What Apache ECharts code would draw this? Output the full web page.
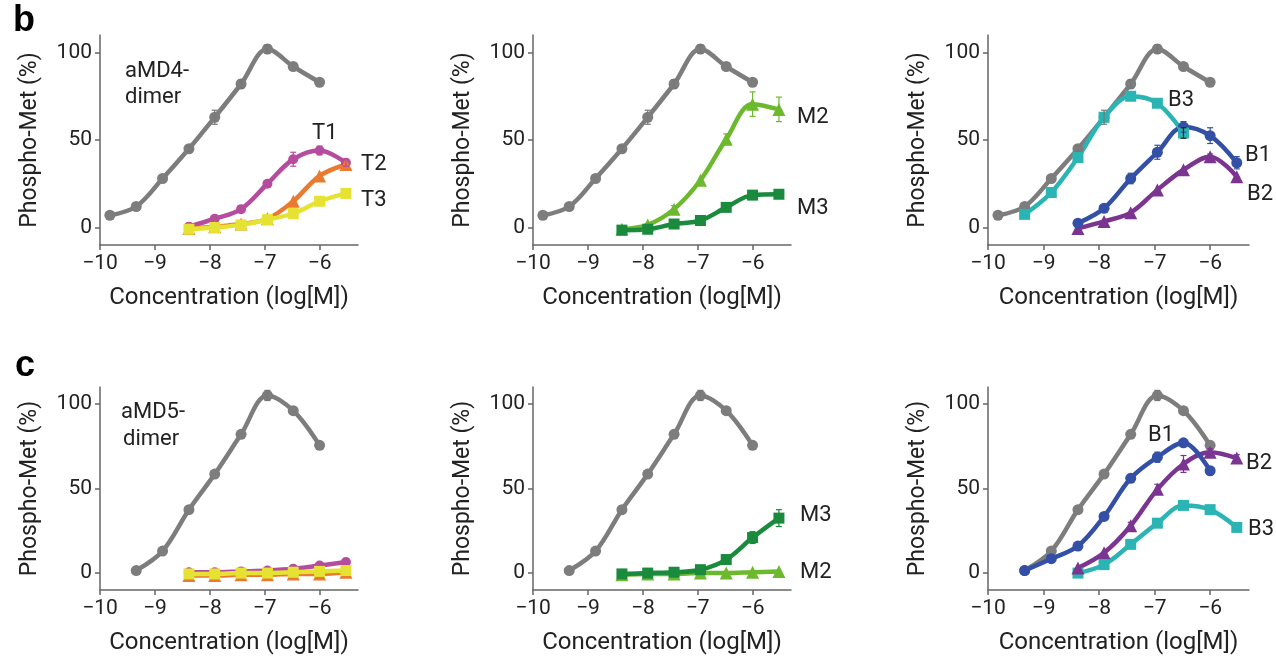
<!DOCTYPE html>
<html>
<head>
<meta charset="utf-8">
<script src="https://cdn.jsdelivr.net/npm/echarts@6/dist/echarts.min.js"></script>
<style>html,body{margin:0;padding:0;background:#fff;}#c{width:1276px;height:658px;}</style>
</head>
<body>
<div id="c"></div>
<script>
// ---- data (log10 concentration, % phospho-Met) ----
const xGray9 = [-9.82, -9.34, -8.86, -8.38, -7.91, -7.43, -6.95, -6.48, -6.0];
const xGray8 = [-9.34, -8.86, -8.38, -7.91, -7.43, -6.95, -6.48, -6.0];
const x7 = [-8.38, -7.91, -7.43, -6.95, -6.48, -6.0, -5.52];
const xB3b = [-9.34, -8.86, -8.38, -7.91, -7.43, -6.95, -6.48];
const xTicks = [-10, -9, -8, -7, -6];
const yTicks = [0, 50, 100];

// panel b
const grayB = [7, 12, 28, 45, 63, 82, 102, 92, 83];
const grayBErr = [0, 0, 0, 1.5, 4, 2.5, 2.5, 0, 0];
const T1b = [0.5, 5, 10.5, 25, 39, 44, 37];
const T1bErr = [0, 0, 0, 1, 4, 2.5, 2];
const T2b = [-0.5, 0.5, 2, 5, 15, 29.5, 36];
const T3b = [-1, 0, 1.5, 4.5, 8, 15, 19.5];
const M2b = [-1, 1.5, 10.5, 27, 50.5, 70.5, 67.5];
const M2bErr = [0, 0, 2, 0, 3, 7, 7];
const M3b = [-1.5, -1, 2, 4, 11.5, 18.5, 19];
const B3b = [7.5, 20, 40, 63, 75, 71, 54];
const B3bErr = [0, 0, 0, 0, 0, 0, 3];
const B1b = [2.5, 11, 28, 43, 57.5, 52.5, 37];
const B1bErr = [0, 1.5, 3, 4, 3, 4.5, 3.5];
const B2b = [-0.5, 3.5, 8.5, 21.5, 33, 40.5, 29];
const B2bErr = [0, 0, 0, 0, 0, 1.5, 0];

// panel c
const grayC = [1.5, 13, 37.5, 58.5, 82, 105, 96, 75.5];
const grayCErr = [0, 0, 0, 0, 0, 3, 0, 0];
const T1c = [0.5, 0.5, 1, 1.5, 2.5, 4.5, 6.5];
const T2c = [-1.5, -1.5, -1, -1, -0.5, -0.5, 0.5];
const T3c = [-0.5, -0.5, 0, 0, 0.5, 1, 1.5];
const M3c = [-0.5, 0, 0.5, 2, 8, 21, 32.5];
const M3cErr = [0, 0, 0, 0, 1, 3.5, 5];
const M2c = [-1, -0.5, -0.5, 0, 0, 0.5, 1];
const B1c = [1.5, 8.5, 16, 33.5, 56, 68.5, 77, 60.5];
const B1cErr = [0, 0, 0, 0, 2, 3, 0, 0];
const B2c = [3, 12, 28, 49.5, 64.5, 71.5, 68];
const B2cErr = [0, 0, 2, 3, 5, 2, 2];
const B3c = [0, 5, 17, 29.5, 40, 37.5, 27];

// ---- styles ----
const COL = {
  gray: '#7d7d7d', T1: '#b64c9e', T2: '#e97a2f', T3: '#e6e233',
  M2: '#6cb92e', M3: '#1a8a3d', B1: '#3450a6', B2: '#7b3591', B3: '#2bb4b4'
};
const FONT = 'Roboto, "Liberation Sans", sans-serif';

const grids = [
  {left: 100, top: 35, width: 258, height: 210},
  {left: 533, top: 35, width: 258, height: 210},
  {left: 988, top: 35, width: 261, height: 210},
  {left: 100, top: 387, width: 258, height: 203},
  {left: 533, top: 387, width: 258, height: 203},
  {left: 988, top: 387, width: 261, height: 203}
];

const fmt = v => (v < 0 ? '\u2212' + Math.abs(v) : String(v));
const axisLine = {lineStyle: {color: '#666', width: 1.5}};
const axisTick = {lineStyle: {color: '#666', width: 1.5}, length: 5};

const xAxes = grids.map((g, i) => ({
  type: 'value', gridIndex: i, min: -10, max: -5.3,
  axisLine: Object.assign({onZero: false}, axisLine),
  axisTick: Object.assign({customValues: xTicks}, axisTick),
  axisLabel: {customValues: xTicks, formatter: fmt, color: '#222', fontSize: 21, fontFamily: FONT, margin: 8},
  splitLine: {show: false},
  name: 'Concentration (log[M])', nameLocation: 'middle', nameGap: 41,
  nameTextStyle: {color: '#222', fontSize: 24, fontFamily: FONT}
}));
const yAxes = grids.map((g, i) => ({
  type: 'value', gridIndex: i, min: -10, max: 110,
  axisLine: Object.assign({onZero: false}, axisLine),
  axisTick: Object.assign({customValues: yTicks}, axisTick),
  axisLabel: {customValues: yTicks, formatter: fmt, color: '#222', fontSize: 21, fontFamily: FONT, margin: 8},
  splitLine: {show: false},
  name: 'Phospho-Met (%)', nameLocation: 'middle', nameGap: 58,
  nameTextStyle: {color: '#222', fontSize: 23, fontFamily: FONT}
}));

const zip = (xs, ys) => xs.map((x, k) => [x, ys[k]]);
const series = [];
function line(idx, xs, ys, color, symbol, size) {
  series.push({
    type: 'line', xAxisIndex: idx, yAxisIndex: idx, data: zip(xs, ys),
    smooth: 0.35, symbol: symbol, symbolSize: size, showSymbol: true,
    lineStyle: {color: color, width: 4.5}, itemStyle: {color: color},
    silent: true, animation: false, z: 2
  });
}
function errbar(idx, xs, ys, es, color) {
  const d = xs.map((x, k) => [x, ys[k], es[k]]).filter(p => p[2] > 0);
  series.push({
    type: 'custom', xAxisIndex: idx, yAxisIndex: idx, data: d, z: 4, silent: true, animation: false,
    renderItem: function (params, api) {
      const x = api.value(0), y = api.value(1), e = api.value(2);
      const t = api.coord([x, y + e]), b = api.coord([x, y - e]);
      const st = {stroke: color, lineWidth: 1.2};
      return {type: 'group', children: [
        {type: 'line', shape: {x1: t[0], y1: t[1], x2: b[0], y2: b[1]}, style: st},
        {type: 'line', shape: {x1: t[0] - 3, y1: t[1], x2: t[0] + 3, y2: t[1]}, style: st},
        {type: 'line', shape: {x1: b[0] - 3, y1: b[1], x2: b[0] + 3, y2: b[1]}, style: st}
      ]};
    }
  });
}

// panel b-1
line(0, xGray9, grayB, COL.gray, 'circle', 11); errbar(0, xGray9, grayB, grayBErr, '#777');
line(0, x7, T1b, COL.T1, 'circle', 10); errbar(0, x7, T1b, T1bErr, COL.T1);
line(0, x7, T2b, COL.T2, 'triangle', 13);
line(0, x7, T3b, COL.T3, 'rect', 11);
// panel b-2
line(1, xGray9, grayB, COL.gray, 'circle', 11); errbar(1, xGray9, grayB, grayBErr, '#777');
line(1, x7, M2b, COL.M2, 'triangle', 13); errbar(1, x7, M2b, M2bErr, COL.M2);
line(1, x7, M3b, COL.M3, 'rect', 11);
// panel b-3
line(2, xGray9, grayB, COL.gray, 'circle', 11); errbar(2, xGray9, grayB, grayBErr, '#777');
line(2, x7, B2b, COL.B2, 'triangle', 13); errbar(2, x7, B2b, B2bErr, COL.B2);
line(2, x7, B1b, COL.B1, 'circle', 11); errbar(2, x7, B1b, B1bErr, COL.B1);
line(2, xB3b, B3b, COL.B3, 'rect', 11); errbar(2, xB3b, B3b, B3bErr, '#222');
// panel c-1
line(3, xGray8, grayC, COL.gray, 'circle', 11); errbar(3, xGray8, grayC, grayCErr, '#777');
line(3, x7, T1c, COL.T1, 'circle', 10);
line(3, x7, T2c, COL.T2, 'triangle', 13);
line(3, x7, T3c, COL.T3, 'rect', 11);
// panel c-2
line(4, xGray8, grayC, COL.gray, 'circle', 11); errbar(4, xGray8, grayC, grayCErr, '#777');
line(4, x7, M2c, COL.M2, 'triangle', 13);
line(4, x7, M3c, COL.M3, 'rect', 11); errbar(4, x7, M3c, M3cErr, COL.M3);
// panel c-3
line(5, xGray8, grayC, COL.gray, 'circle', 11); errbar(5, xGray8, grayC, grayCErr, '#777');
line(5, x7, B3c, COL.B3, 'rect', 11);
line(5, x7, B2c, COL.B2, 'triangle', 13); errbar(5, x7, B2c, B2cErr, COL.B2);
line(5, xGray8, B1c, COL.B1, 'circle', 11); errbar(5, xGray8, B1c, B1cErr, COL.B1);

// ---- text annotations (x, y = left edge, vertical centre) ----
const labels = [
  ['b', 13, 21, true], ['c', 15, 366, true],
  ['aMD4-', 125, 71], ['dimer', 125, 97], ['T1', 312, 133], ['T2', 361, 164], ['T3', 361, 200],
  ['M2', 797, 117], ['M3', 797, 208],
  ['B3', 1168, 100], ['B1', 1245, 155], ['B2', 1247, 194],
  ['aMD5-', 121, 412], ['dimer', 123, 439],
  ['M3', 800, 515], ['M2', 800, 572],
  ['B1', 1148, 435], ['B2', 1246, 463], ['B3', 1248, 529]
];
const graphic = labels.map(l => ({
  type: 'text', x: l[1], y: l[2], silent: true,
  style: {
    text: l[0], fill: l[3] ? '#000' : '#222',
    font: l[3] ? 'bold 36px "Liberation Sans", Arial, sans-serif' : '22px ' + FONT,
    verticalAlign: 'middle', align: 'left'
  }
}));

const chart = echarts.init(document.getElementById('c'), null, {renderer: 'canvas'});
chart.setOption({
  animation: false,
  grid: grids,
  xAxis: xAxes,
  yAxis: yAxes,
  series: series,
  graphic: graphic
});
</script>
</body>
</html>
